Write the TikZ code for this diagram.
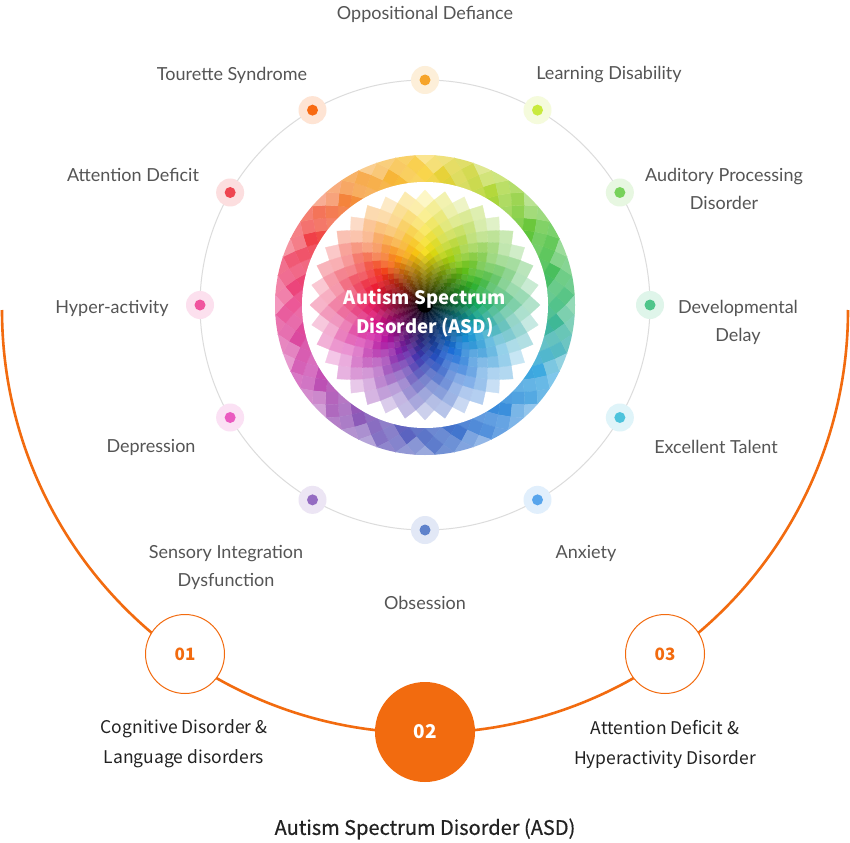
\PassOptionsToPackage{rgb}{xcolor}
\documentclass[tikz,border=0pt]{standalone}
\usepackage{fontspec}
\setmainfont{Lato}
\newfontfamily\kr{Noto Sans CJK KR}
\newfontfamily\krmed[FakeBold=0.6]{Noto Sans CJK KR}
\definecolor{orangeM}{HTML}{F26B0F}
\definecolor{labelgray}{HTML}{555555}
\definecolor{ringgray}{HTML}{DCDCDC}
\definecolor{darktext}{HTML}{222222}
\definecolor{cOpp}{HTML}{F6A42A}
\definecolor{cLrn}{HTML}{C9EA3D}
\definecolor{cAud}{HTML}{77D25A}
\definecolor{cDev}{HTML}{4EC58A}
\definecolor{cExc}{HTML}{4DC3DC}
\definecolor{cAnx}{HTML}{58A5EC}
\definecolor{cObs}{HTML}{5F82CB}
\definecolor{cSen}{HTML}{946CC2}
\definecolor{cDep}{HTML}{EA5BC0}
\definecolor{cHyp}{HTML}{F0549E}
\definecolor{cAtt}{HTML}{EE4550}
\definecolor{cTou}{HTML}{F86A12}
% outer ring anchor colours, every 30 degrees (math angle)
\definecolor{rA0}{HTML}{40BC7E}
\definecolor{rA1}{HTML}{52C23C}
\definecolor{rA2}{HTML}{B4D83C}
\definecolor{rA3}{HTML}{F8D038}
\definecolor{rA4}{HTML}{F59A38}
\definecolor{rA5}{HTML}{F04048}
\definecolor{rA6}{HTML}{EA468C}
\definecolor{rA7}{HTML}{CC4CB2}
\definecolor{rA8}{HTML}{8C5AB8}
\definecolor{rA9}{HTML}{4A66C2}
\definecolor{rA10}{HTML}{3A86DA}
\definecolor{rA11}{HTML}{3EAAE0}
\definecolor{rA12}{HTML}{40BC7E}
% inner flower anchor colours
\definecolor{fA0}{HTML}{12A860}
\definecolor{fA1}{HTML}{3CB41C}
\definecolor{fA2}{HTML}{9CCC10}
\definecolor{fA3}{HTML}{F5DC10}
\definecolor{fA4}{HTML}{F79010}
\definecolor{fA5}{HTML}{EE1C1C}
\definecolor{fA6}{HTML}{E61C5C}
\definecolor{fA7}{HTML}{D0109C}
\definecolor{fA8}{HTML}{8420A8}
\definecolor{fA9}{HTML}{2A3CB0}
\definecolor{fA10}{HTML}{1A6CD6}
\definecolor{fA11}{HTML}{1498D0}
\definecolor{fA12}{HTML}{12A860}
\tikzset{
  lab/.style={font=\fontsize{18}{28}\selectfont, text=labelgray, align=center, inner sep=0pt},
  blab/.style={font=\kr\fontsize{17.5}{30}\selectfont, text=darktext, align=center, inner sep=0pt},
  halo/.style={circle, minimum size=28pt, inner sep=0pt, draw=none},
  pip/.style={circle, minimum size=11pt, inner sep=0pt, draw=none},
  numring/.style={circle, minimum size=79pt, inner sep=0pt, draw=orangeM, line width=1pt, fill=white,
    text=orangeM, font=\kr\bfseries\fontsize{17}{20}\selectfont},
  numfull/.style={circle, minimum size=100pt, inner sep=0pt, fill=orangeM, draw=none,
    text=white, font=\kr\bfseries\fontsize{19}{22}\selectfont},
  bigarc/.style={orangeM, line width=2.6pt},
}
\begin{document}
\begin{tikzpicture}[x=1pt,y=-1pt]
\useasboundingbox (0,0) rectangle (850,842);
\fill[white] (0,0) rectangle (850,842);

% big orange arc
\coordinate (arcL) at (2,310);
\coordinate (arcR) at (848,310);
\draw[bigarc] (arcL) arc[start angle=180, end angle=0, radius=423];

% gray ring
\draw[ringgray, line width=1pt] (425,305) circle (225);

% colour wheel
\begin{scope}[shift={(425,305)}, yscale=-1]
  \begin{scope}
    \clip (0,0) circle (150);
    \foreach \k in {0,...,5}{
      \foreach \j in {0,...,47}{
        \pgfmathsetmacro\a{(\j+0.5*mod(\k,2))*7.5}
        \pgfmathsetmacro\r{114+9*\k}
        \pgfmathtruncatemacro\ii{floor(\a/30)}
        \pgfmathtruncatemacro\jj{\ii+1}
        \pgfmathtruncatemacro\pp{100*(1-(\a/30-\ii))}
        \pgfmathtruncatemacro\w{100-10*mod(\j+2*\k,3)-1.3*max(0,\r-132)}
        \colorlet{cb}[rgb]{rA\ii!\pp!rA\jj}
        \colorlet{cf}[rgb]{cb!\w!white}
        \fill[cf, draw=cf, line width=0.3pt]
          ({\a}:{\r+9}) -- ({\a+3.75}:{\r}) -- ({\a}:{\r-9}) -- ({\a-3.75}:{\r}) -- cycle;
      }
    }
  \end{scope}
  \fill[white] (0,0) circle (123);
  \fill[black] (0,0) circle (9);
  \foreach \m in {0,...,29}{
    \pgfmathsetmacro\ro{115*0.91653^(\m+1)}
    \pgfmathsetmacro\rout{\ro/0.91653}
    \pgfmathsetmacro\rin{\ro*0.91653}
    \pgfmathtruncatemacro\pd{min(100,100*(\ro/52)^0.9)}
    \pgfmathtruncatemacro\pw{100-max(0,78*(\ro-52)/63)}
    \foreach \j in {0,...,35}{
      \pgfmathsetmacro\a{(\j+0.5*mod(\m,2))*10}
      \pgfmathtruncatemacro\ii{floor(\a/30)}
      \pgfmathtruncatemacro\jj{\ii+1}
      \pgfmathtruncatemacro\pp{100*(1-(\a/30-\ii))}
      \pgfmathtruncatemacro\pv{\pw-9*mod(\j,2)}
      \colorlet{cb}[rgb]{fA\ii!\pp!fA\jj}
      \colorlet{cf}[rgb]{cb!\pd!black!\pv!white}
      \fill[cf, draw=cf, line width=0.3pt]
        ({\a}:{\rout}) -- ({\a+5}:{\ro}) -- ({\a}:{\rin}) -- ({\a-5}:{\ro}) -- cycle;
    }
  }
  % dots on the ring
  \foreach \nm/\ang/\col in {opp/90/cOpp, lrn/60/cLrn, aud/30/cAud, dev/0/cDev, exc/-30/cExc,
      anx/-60/cAnx, obs/-90/cObs, sen/-120/cSen, dep/-150/cDep, hyp/180/cHyp, att/150/cAtt, tou/120/cTou}{
    \node[halo, fill=\col!18!white] (h\nm) at (\ang:225) {};
    \node[pip, fill=\col] (p\nm) at (h\nm) {};
  }
\end{scope}

% centre text
\node[font=\kr\bfseries\fontsize{18.5}{29}\selectfont, text=white, align=center, inner sep=0pt] (centre) at (425,313)
  {Autism Spectrum\\Disorder (ASD)};

% ring labels
\node[lab] (lOpp) at (425,14) {Oppositional Defiance};
\node[lab] (lLrn) at (609,75) {Learning Disability};
\node[lab] (lTou) at (232,75) {Tourette Syndrome};
\node[lab] (lAtt) at (133,175) {Attention Deficit};
\node[lab] (lAud) at (724,189) {Auditory Processing\\Disorder};
\node[lab] (lHyp) at (112,308) {Hyper-activity};
\node[lab] (lDev) at (738,322) {Developmental\\Delay};
\node[lab] (lDep) at (151,447) {Depression};
\node[lab] (lExc) at (716,447) {Excellent Talent};
\node[lab] (lSen) at (226,567) {Sensory Integration\\Dysfunction};
\node[lab] (lAnx) at (586,553) {Anxiety};
\node[lab] (lObs) at (425,603) {Obsession};

% bottom numbered circles
\node[numring] (n1) at (185,654) {01};
\node[numring] (n3) at (665,654) {03};
\node[numfull] (n2) at (425,732) {02};

\node[blab] (t1) at (184,744) {Cognitive Disorder \&\\Language disorders};
\node[blab] (t3) at (665,744) {Attention Deficit \&\\Hyperactivity Disorder};
\node[font=\krmed\fontsize{20}{24}\selectfont, text=darktext, inner sep=0pt] (title) at (425,829)
  {Autism Spectrum Disorder (ASD)};
\end{tikzpicture}
\end{document}
